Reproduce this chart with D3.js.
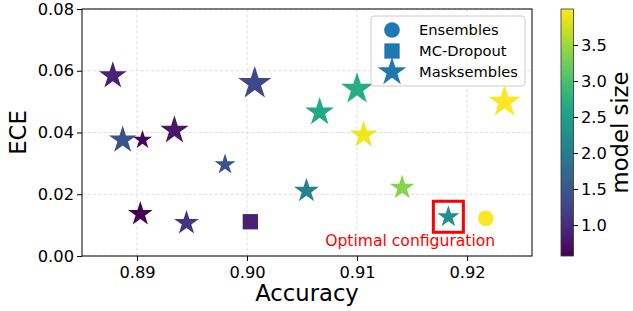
<!DOCTYPE html>
<html>
<head>
<meta charset="utf-8">
<script src="https://cdn.jsdelivr.net/npm/d3@7"></script>
<style>
  body { margin: 0; background: #fff; }
  text { font-family: "DejaVu Sans", sans-serif; }
</style>
</head>
<body>
<div id="chart"></div>
<script>
// data
var methods = ["Ensembles", "MC-Dropout", "Masksembles"];

var ensAcc = [0.9217];
var ensEce = [0.0122];
var ensSize = [4.0];
var ensS = [246];

var dropAcc = [0.9003];
var dropEce = [0.0111];
var dropSize = [0.9];
var dropS = [234];

var maskAcc = [0.8878, 0.8887, 0.8905, 0.8934, 0.9007, 0.8980, 0.8903, 0.8945,
               0.9054, 0.9066, 0.9100, 0.9106, 0.9141, 0.9183, 0.9234];
var maskEce = [0.0584, 0.0376, 0.0376, 0.0407, 0.0559, 0.0296, 0.0136, 0.0107,
               0.0211, 0.0466, 0.0541, 0.0392, 0.0221, 0.0127, 0.0499];
var maskSize = [0.90, 1.43, 0.62, 0.78, 1.32, 1.43, 0.57, 1.08,
                2.11, 2.63, 2.70, 3.93, 3.38, 2.29, 4.0];
var maskS = [841, 841, 400, 900, 1211, 484, 676, 676,
             676, 900, 1129, 841, 676, 538, 1156];

var xTicks = [0.89, 0.90, 0.91, 0.92];
var yTicks = [0.00, 0.02, 0.04, 0.06, 0.08];
var cbTicks = [1.0, 1.5, 2.0, 2.5, 3.0, 3.5];

var optimalIndex = 13; // masksembles point in the red box
var optimalLabel = "Optimal configuration";

// layout
var W = 633, H = 311;
var margin = { top: 9, right: 101, bottom: 55, left: 82 };
var width = W - margin.left - margin.right,
    height = H - margin.top - margin.bottom;

var svg = d3.select("#chart")
    .append("svg")
    .attr("width", W)
    .attr("height", H);

var g = svg.append("g")
    .attr("transform", "translate(" + margin.left + "," + margin.top + ")");

var x = d3.scaleLinear().domain([0.885, 0.9259]).range([0, width]);
var y = d3.scaleLinear().domain([0, 0.08]).range([height, 0]);

var allSize = ensSize.concat(dropSize, maskSize);
var color = d3.scaleSequential(d3.interpolateViridis).domain(d3.extent(allSize));
var r = d3.scaleSqrt().domain([0, 1600]).range([0, 20]);

// grid
g.append("g").selectAll("line")
    .data(xTicks)
    .enter().append("line")
    .attr("x1", d => x(d)).attr("x2", d => x(d))
    .attr("y1", 0).attr("y2", height)
    .attr("stroke", "#d9d9d9").attr("stroke-width", 0.8)
    .attr("stroke-dasharray", "3.5,1.8");
g.append("g").selectAll("line")
    .data(yTicks)
    .enter().append("line")
    .attr("x1", 0).attr("x2", width)
    .attr("y1", d => y(d)).attr("y2", d => y(d))
    .attr("stroke", "#d9d9d9").attr("stroke-width", 0.8)
    .attr("stroke-dasharray", "3.5,1.8");

// axes
var xAxis = g.append("g")
    .attr("transform", "translate(0," + height + ")")
    .call(d3.axisBottom(x).tickValues(xTicks).tickFormat(d3.format(".2f"))
        .tickSize(5).tickPadding(5));
var yAxis = g.append("g")
    .call(d3.axisLeft(y).tickValues(yTicks).tickFormat(d3.format(".2f"))
        .tickSize(5).tickPadding(3));
[xAxis, yAxis].forEach(a => {
    a.select(".domain").remove();
    a.selectAll("text").attr("font-size", "16.3px").attr("fill", "#000")
        .attr("font-family", "DejaVu Sans");
    a.selectAll("line").attr("stroke", "#000").attr("stroke-width", 1);
});

// spines
g.append("rect")
    .attr("x", 0).attr("y", 0)
    .attr("width", width).attr("height", height)
    .attr("fill", "none").attr("stroke", "#000").attr("stroke-width", 1);

function starPath(s) {
    var rr = r(s);
    return d3.symbol(d3.symbolStar, rr * rr / 0.8908130915292852)();
}

// points
g.append("g").selectAll("path")
    .data(ensAcc.map((a, i) => ({ a: a, e: ensEce[i], m: ensSize[i], s: ensS[i] })))
    .enter().append("circle")
    .attr("cx", d => x(d.a)).attr("cy", d => y(d.e))
    .attr("r", d => r(d.s))
    .attr("fill", d => color(d.m));

g.append("g").selectAll("rect")
    .data(dropAcc.map((a, i) => ({ a: a, e: dropEce[i], m: dropSize[i], s: dropS[i] })))
    .enter().append("rect")
    .attr("x", d => x(d.a) - r(d.s)).attr("y", d => y(d.e) - r(d.s))
    .attr("width", d => 2 * r(d.s)).attr("height", d => 2 * r(d.s))
    .attr("fill", d => color(d.m));

var maskData = maskAcc.map((a, i) => ({ a: a, e: maskEce[i], m: maskSize[i], s: maskS[i] }));
g.append("g").selectAll("path")
    .data(maskData)
    .enter().append("path")
    .attr("transform", d => "translate(" + x(d.a) + "," + y(d.e) + ")")
    .attr("d", d => starPath(d.s))
    .attr("fill", d => color(d.m));

// optimal configuration box + label
var opt = maskData[optimalIndex];
g.append("rect")
    .attr("x", x(opt.a) - 15).attr("y", y(opt.e) - 15.5)
    .attr("width", 30).attr("height", 31)
    .attr("fill", "none").attr("stroke", "red").attr("stroke-width", 3);
g.append("text")
    .attr("x", x(0.9071)).attr("y", y(0.0032))
    .attr("font-size", "15.6px").attr("fill", "red")
    .text(optimalLabel);

// legend
var leg = svg.append("g").attr("transform", "translate(371,16)");
leg.append("rect")
    .attr("width", 154).attr("height", 70).attr("rx", 3)
    .attr("fill", "#fff").attr("fill-opacity", 0.8)
    .attr("stroke", "#cccccc").attr("stroke-width", 1);
var legRows = leg.selectAll("g.row")
    .data(methods)
    .enter().append("g")
    .attr("class", "row")
    .attr("transform", (d, i) => "translate(21," + (14 + i * 21) + ")");
legRows.each(function (d, i) {
    var sel = d3.select(this);
    if (i === 0) {
        sel.append("circle").attr("r", 7.85).attr("fill", "#1f77b4");
    } else if (i === 1) {
        sel.append("rect").attr("x", -7.65).attr("y", -7.65)
            .attr("width", 15.3).attr("height", 15.3).attr("fill", "#1f77b4");
    } else {
        sel.append("path").attr("d", starPath(900)).attr("fill", "#1f77b4");
    }
});
legRows.append("text")
    .attr("x", 27).attr("dy", "0.36em")
    .attr("font-size", "14.7px").attr("fill", "#000")
    .text(d => d);

// axis labels
svg.append("text")
    .attr("x", margin.left + width / 2).attr("y", 301)
    .attr("text-anchor", "middle").attr("font-size", "22.7px")
    .text("Accuracy");
svg.append("text")
    .attr("transform", "translate(26," + (margin.top + height / 2) + ") rotate(-90)")
    .attr("text-anchor", "middle").attr("font-size", "22.7px")
    .text("ECE");

// colorbar
var cbX = 561, cbW = 12.5;
var cb = d3.scaleLinear().domain(d3.extent(allSize)).range([margin.top + height, margin.top]);
var defs = svg.append("defs");
var grad = defs.append("linearGradient")
    .attr("id", "cbgrad")
    .attr("x1", "0%").attr("y1", "100%").attr("x2", "0%").attr("y2", "0%");
d3.range(0, 1.0001, 0.05).forEach(t => {
    grad.append("stop").attr("offset", (t * 100) + "%")
        .attr("stop-color", d3.interpolateViridis(t));
});
svg.append("rect")
    .attr("x", cbX).attr("y", margin.top)
    .attr("width", cbW).attr("height", height)
    .attr("fill", "url(#cbgrad)")
    .attr("stroke", "#333").attr("stroke-width", 0.8);
var cbAxis = svg.append("g")
    .attr("transform", "translate(" + (cbX + cbW) + ",0)")
    .call(d3.axisRight(cb).tickValues(cbTicks).tickFormat(d3.format(".1f"))
        .tickSize(4.5).tickPadding(3));
cbAxis.select(".domain").remove();
cbAxis.selectAll("text").attr("font-size", "16.3px").attr("fill", "#000")
    .attr("font-family", "DejaVu Sans");
cbAxis.selectAll("line").attr("stroke", "#000");
svg.append("text")
    .attr("transform", "translate(628," + (margin.top + height / 2) + ") rotate(-90)")
    .attr("text-anchor", "middle").attr("font-size", "22.7px")
    .text("model size");
</script>
</body>
</html>
